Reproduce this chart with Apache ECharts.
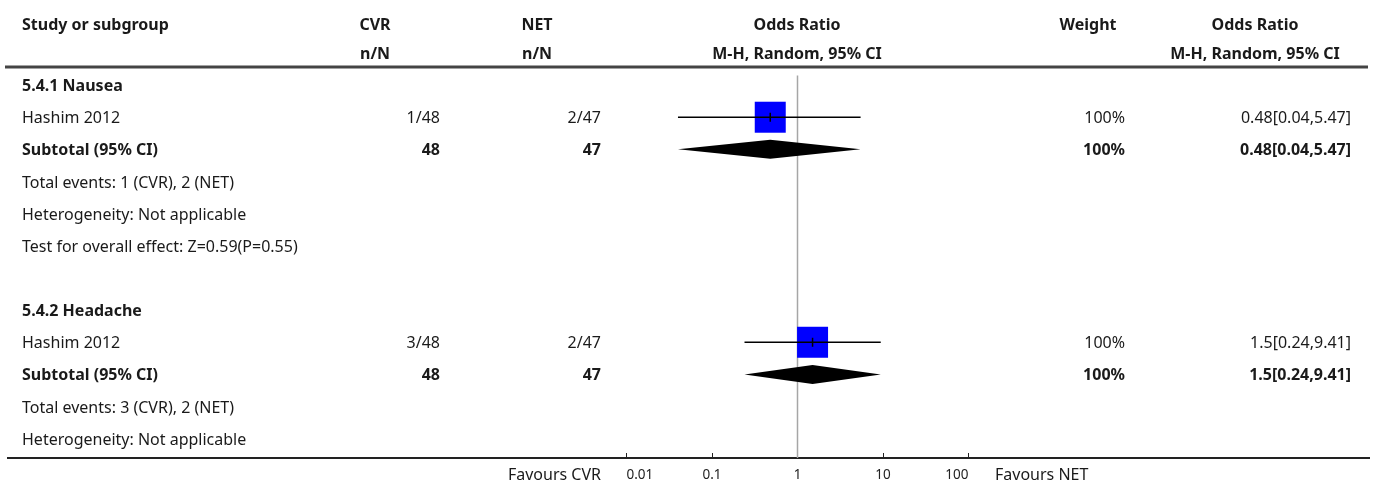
<!DOCTYPE html>
<html>
<head>
<meta charset="utf-8">
<script src="https://cdn.jsdelivr.net/npm/echarts@6/dist/echarts.min.js"></script>
<style>
  html, body { margin: 0; padding: 0; background: #ffffff; }
  #chart { width: 1373px; height: 487px; }
</style>
</head>
<body>
<div id="chart"></div>
<script>
// Forest plot: adverse events, CVR vs NET
const subgroups = ['5.4.1 Nausea', '5.4.2 Headache'];
const studyNames = ['Hashim 2012', 'Hashim 2012'];
const cvrEvents = [1, 3];
const cvrTotals = [48, 48];
const netEvents = [2, 2];
const netTotals = [47, 47];
const oddsRatio = [0.48, 1.5];
const ciLow = [0.04, 0.24];
const ciHigh = [5.47, 9.41];
const weights = [100, 100];
const subgroupNotes = [
  ['Total events: 1 (CVR), 2 (NET)', 'Heterogeneity: Not applicable', 'Test for overall effect: Z=0.59(P=0.55)'],
  ['Total events: 3 (CVR), 2 (NET)', 'Heterogeneity: Not applicable']
];
const tickLabels = ['0.01', '0.1', '1', '10', '100'];
const axisMin = 0.01;
const axisMax = 100;

// Column anchors (pixels)
const COL = {
  study: 22,
  cvrRight: 440, cvrHead: 375,
  netRight: 601, netHead: 537,
  orHead: 797,
  weightRight: 1125, weightHead: 1088,
  orTextRight: 1351, orTextHead: 1255
};
const FONT = '"Noto Sans"';
const TEXT_COLOR = '#1a1a1a';
const FONT_SIZE = 16;
const TEXT_SHIFT = 1.5;
const SQUARE_MAX = 31;
const DIAMOND_HALF = 9.5;

// Table rows, top to bottom
const rows = [];
subgroups.forEach((name, g) => {
  rows.push({ kind: 'group', g });
  rows.push({ kind: 'study', g });
  rows.push({ kind: 'total', g });
  subgroupNotes[g].forEach(t => rows.push({ kind: 'note', text: t }));
  if (g < subgroups.length - 1) rows.push({ kind: 'blank' });
});
rows.forEach((r, i) => { r.row = i; });

const Y_MIN = -0.5;
const Y_MAX = 11.6;

function txt(str, x, y, align, bold) {
  return {
    type: 'text',
    style: {
      text: str, x: x, y: y + TEXT_SHIFT,
      align: align, verticalAlign: 'middle',
      textAlign: align, textVerticalAlign: 'middle',
      fontFamily: FONT, fontSize: FONT_SIZE,
      fontWeight: bold ? 'bold' : 'normal',
      fill: TEXT_COLOR
    }
  };
}

function ciText(g) {
  return oddsRatio[g] + '[' + ciLow[g] + ',' + ciHigh[g] + ']';
}

function renderRow(params, api) {
  const r = rows[params.dataIndex];
  const y = api.coord([1, r.row])[1];
  const children = [];
  if (r.kind === 'group') {
    children.push(txt(subgroups[r.g], COL.study, y, 'left', true));
  } else if (r.kind === 'note') {
    children.push(txt(r.text, COL.study, y, 'left', false));
  } else if (r.kind === 'study') {
    const g = r.g;
    children.push(txt(studyNames[g], COL.study, y, 'left', false));
    children.push(txt(cvrEvents[g] + '/' + cvrTotals[g], COL.cvrRight, y, 'right', false));
    children.push(txt(netEvents[g] + '/' + netTotals[g], COL.netRight, y, 'right', false));
    children.push(txt(weights[g] + '%', COL.weightRight, y, 'right', false));
    children.push(txt(ciText(g), COL.orTextRight, y, 'right', false));
    const xe = api.coord([oddsRatio[g], r.row])[0];
    const xl = api.coord([ciLow[g], r.row])[0];
    const xh = api.coord([ciHigh[g], r.row])[0];
    const s = SQUARE_MAX * weights[g] / 100;
    children.push({ type: 'rect', shape: { x: xe - s / 2, y: y - s / 2, width: s, height: s }, style: { fill: '#0000ff' } });
    children.push({ type: 'line', shape: { x1: xl, y1: y, x2: xh, y2: y }, style: { stroke: '#000', lineWidth: 1.5 } });
    children.push({ type: 'line', shape: { x1: xe, y1: y - 4.5, x2: xe, y2: y + 4.5 }, style: { stroke: '#000', lineWidth: 1.5 } });
  } else if (r.kind === 'total') {
    const g = r.g;
    children.push(txt('Subtotal (95% CI)', COL.study, y, 'left', true));
    children.push(txt(String(cvrTotals[g]), COL.cvrRight, y, 'right', true));
    children.push(txt(String(netTotals[g]), COL.netRight, y, 'right', true));
    children.push(txt(weights[g] + '%', COL.weightRight, y, 'right', true));
    children.push(txt(ciText(g), COL.orTextRight, y, 'right', true));
    const xe = api.coord([oddsRatio[g], r.row])[0];
    const xl = api.coord([ciLow[g], r.row])[0];
    const xh = api.coord([ciHigh[g], r.row])[0];
    children.push({
      type: 'polygon',
      shape: { points: [[xl, y], [xe, y - DIAMOND_HALF], [xh, y], [xe, y + DIAMOND_HALF]] },
      style: { fill: '#000' }
    });
  }
  return { type: 'group', children: children };
}

function renderRefLine(params, api) {
  const top = api.coord([1, -0.3]);
  const bottom = api.coord([1, Y_MAX]);
  return {
    type: 'line',
    shape: { x1: top[0], y1: top[1], x2: bottom[0], y2: bottom[1] },
    style: { stroke: '#a6a6a6', lineWidth: 1.5 }
  };
}

const chart = echarts.init(document.getElementById('chart'), null, { renderer: 'canvas' });

const headerStyle = (text, x, y, align) => ({
  type: 'text', x: x, y: y + TEXT_SHIFT,
  style: {
    text: text, x: 0, y: 0, align: align, verticalAlign: 'middle',
    textAlign: align, textVerticalAlign: 'middle',
    fontFamily: FONT, fontSize: FONT_SIZE, fontWeight: 'bold', fill: TEXT_COLOR
  }
});

chart.setOption({
  animation: false,
  backgroundColor: '#ffffff',
  grid: { left: 626.5, right: 404.5, top: 69, bottom: 29, containLabel: false },
  xAxis: {
    type: 'log', logBase: 10, min: axisMin, max: axisMax, position: 'bottom',
    axisLine: { show: true, onZero: false, lineStyle: { color: '#222', width: 2 } },
    axisTick: { show: true, inside: true, length: 5, lineStyle: { color: '#222', width: 1 } },
    minorTick: { show: false },
    splitLine: { show: false },
    axisLabel: {
      margin: 10, color: '#222', fontFamily: FONT, fontSize: 13.5,
      alignMinLabel: 'left', alignMaxLabel: 'right',
      formatter: (v, i) => tickLabels[i]
    }
  },
  yAxis: {
    type: 'value', inverse: true, min: Y_MIN, max: Y_MAX, show: false,
    splitLine: { show: false }
  },
  graphic: [
    headerStyle('Study or subgroup', COL.study, 24, 'left'),
    headerStyle('CVR', COL.cvrHead, 24, 'center'),
    headerStyle('n/N', COL.cvrHead, 53, 'center'),
    headerStyle('NET', COL.netHead, 24, 'center'),
    headerStyle('n/N', COL.netHead, 53, 'center'),
    headerStyle('Odds Ratio', COL.orHead, 24, 'center'),
    headerStyle('M-H, Random, 95% CI', COL.orHead, 53, 'center'),
    headerStyle('Weight', COL.weightHead, 24, 'center'),
    headerStyle('Odds Ratio', COL.orTextHead, 24, 'center'),
    headerStyle('M-H, Random, 95% CI', COL.orTextHead, 53, 'center'),
    { type: 'line', shape: { x1: 5, y1: 67, x2: 1368, y2: 67 }, style: { stroke: '#444', lineWidth: 3 } },
    { type: 'line', shape: { x1: 7, y1: 458, x2: 1370, y2: 458 }, style: { stroke: '#222', lineWidth: 2 } },
    {
      type: 'text', x: 601, y: 474 + TEXT_SHIFT,
      style: { text: 'Favours CVR', align: 'right', verticalAlign: 'middle', textAlign: 'right', textVerticalAlign: 'middle',
        fontFamily: FONT, fontSize: FONT_SIZE, fill: TEXT_COLOR }
    },
    {
      type: 'text', x: 995, y: 474 + TEXT_SHIFT,
      style: { text: 'Favours NET', align: 'left', verticalAlign: 'middle', textAlign: 'left', textVerticalAlign: 'middle',
        fontFamily: FONT, fontSize: FONT_SIZE, fill: TEXT_COLOR }
    }
  ],
  series: [
    {
      type: 'custom', name: 'reference', clip: false, z: 1,
      data: [[1, 0]], renderItem: renderRefLine, silent: true
    },
    {
      type: 'custom', name: 'rows', clip: false, z: 2,
      data: rows.map(r => [1, r.row]), renderItem: renderRow, silent: true
    }
  ]
});
</script>
</body>
</html>
